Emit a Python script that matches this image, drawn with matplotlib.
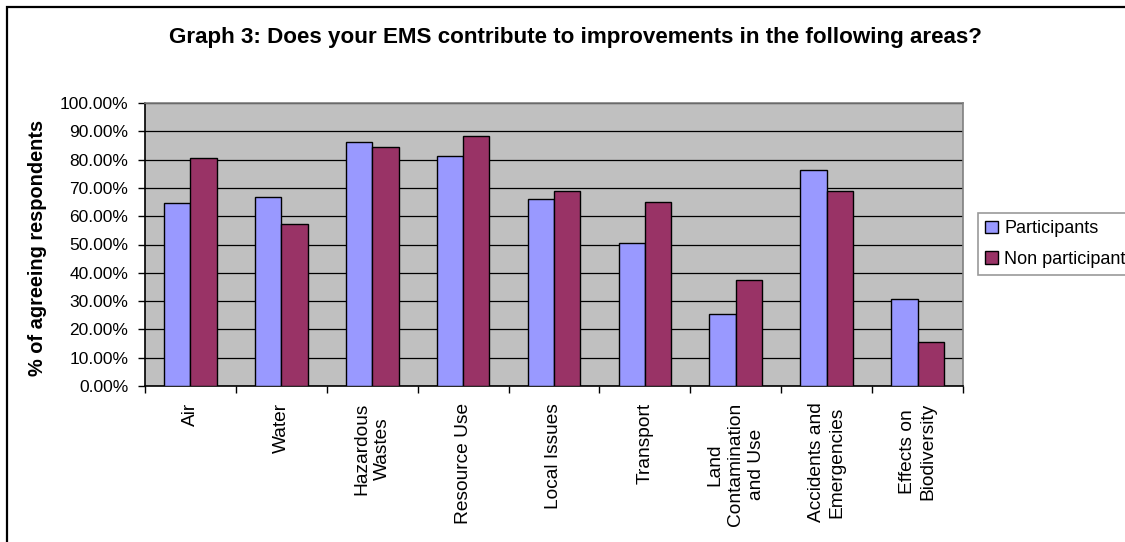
import matplotlib
matplotlib.use("Agg")
import matplotlib.pyplot as plt
from matplotlib.patches import Rectangle
from matplotlib.ticker import FixedLocator, PercentFormatter
import numpy as np

plt.rcParams['font.family'] = ['Liberation Sans', 'DejaVu Sans']

categories = ["Air", "Water", "Hazardous\nWastes", "Resource Use", "Local Issues",
              "Transport", "Land\nContamination\nand Use", "Accidents and\nEmergencies",
              "Effects on\nBiodiversity"]
participants = [64.6, 66.9, 86.3, 81.4, 66.1, 50.4, 25.3, 76.2, 30.6]
non_participants = [80.4, 57.2, 84.3, 88.2, 69.0, 65.0, 37.5, 69.0, 15.7]
series_names = ["Participants", "Non participants"]
title = "Graph 3: Does your EMS contribute to improvements in the following areas?"
ylabel = "% of agreeing respondents"

W, H = 1125, 542
fig = plt.figure(figsize=(W / 100, H / 100), dpi=100)
ax = fig.add_axes([145 / W, 1 - 386 / H, (963 - 145) / W, (386 - 103) / H])

x = np.arange(len(categories))
bw = 0.29
ax.bar(x - bw / 2, participants, bw, color="#9999FF", edgecolor="black", linewidth=1,
       label=series_names[0], zorder=3)
ax.bar(x + bw / 2, non_participants, bw, color="#993366", edgecolor="black", linewidth=1,
       label=series_names[1], zorder=3)

ax.set_facecolor("#C0C0C0")
ax.set_xlim(-0.5, len(categories) - 0.5)
ax.set_ylim(0, 100)
ax.yaxis.set_major_locator(FixedLocator(np.arange(0, 101, 10)))
ax.yaxis.set_major_formatter(PercentFormatter(decimals=2))
ax.grid(axis="y", color="black", linewidth=0.9, zorder=1)
ax.set_axisbelow(True)

ax.set_xticks(x)
ax.set_xticklabels(categories, rotation=90, ha="center", va="top", multialignment="center",
                   fontsize=13.8, linespacing=1.3)
ax.tick_params(axis="x", which="major", length=0, pad=12)
ax.set_xticks(np.arange(-0.5, len(categories), 1), minor=True)
ax.tick_params(axis="x", which="minor", length=5, width=1, direction="out", color="black")
ax.tick_params(axis="y", length=5, width=1, direction="out", labelsize=12.5, pad=7)

for side in ("top", "right"):
    ax.spines[side].set_color("#808080")
    ax.spines[side].set_linewidth(1.2)
for side in ("bottom", "left"):
    ax.spines[side].set_color("black")
    ax.spines[side].set_linewidth(1.2)

fig.text(38 / W, 1 - 248 / H, ylabel, rotation=90, ha="center", va="center",
         fontsize=14.4, fontweight="bold")
fig.text(575 / W, 1 - 38 / H, title, ha="center", va="center",
         fontsize=16.1, fontweight="bold")

leg = fig.legend(loc="upper left", bbox_to_anchor=(978 / W, 1 - 213 / H),
                 fontsize=13, frameon=True, fancybox=False, edgecolor="#808080",
                 handlelength=0.7, handleheight=0.7, handletextpad=0.35,
                 borderpad=0.4, labelspacing=0.75, borderaxespad=0)
leg.get_frame().set_linewidth(1.2)

fig.patches.append(Rectangle((7 / W, -0.05), 1.2, 1 - 6.5 / H + 0.05, transform=fig.transFigure,
                             fill=False, edgecolor="black", linewidth=1.6))

fig.savefig("out.png", dpi=100, facecolor="white")
